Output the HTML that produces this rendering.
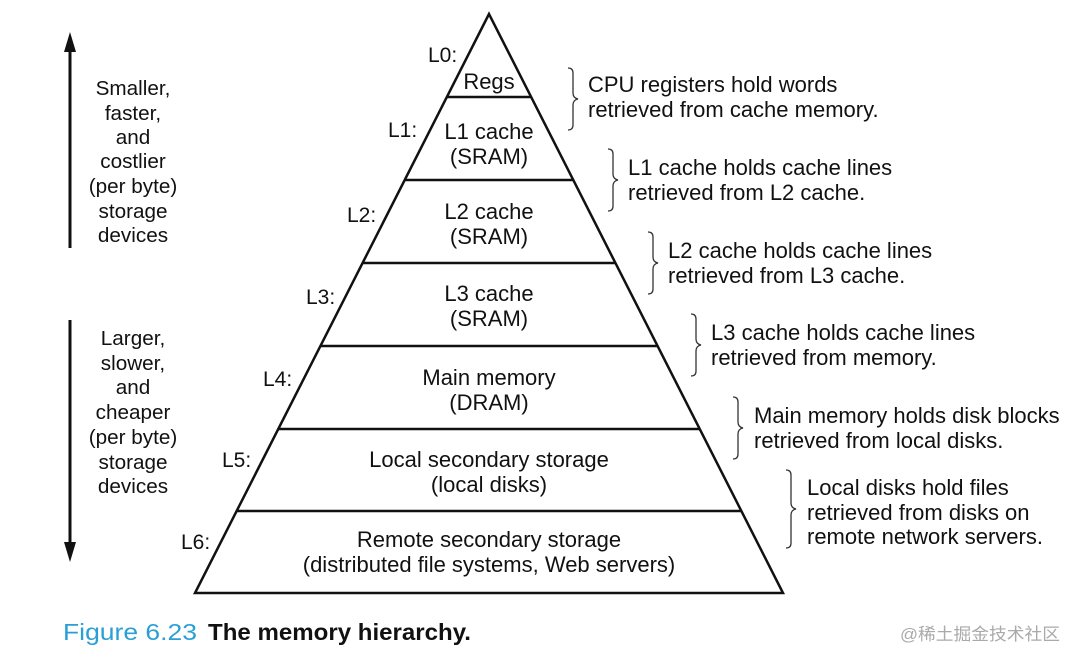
<!DOCTYPE html>
<html><head><meta charset="utf-8"><style>
html,body{margin:0;padding:0;background:#fff;}
svg{display:block;}
text{font-family:"Liberation Sans",sans-serif;font-size:22px;fill:#111;}
.c{text-anchor:middle;}
.l{font-size:20.7px;}
.L{font-size:21px;}
</style></head><body>
<svg width="1080" height="663" viewBox="0 0 1080 663">
<g stroke="#111" stroke-width="2.5" fill="none">
<polygon points="489,14 195,593 783,593"/>
<line x1="447" y1="97" x2="531" y2="97"/>
<line x1="405" y1="180" x2="573" y2="180"/>
<line x1="363" y1="263" x2="615" y2="263"/>
<line x1="321" y1="346" x2="657" y2="346"/>
<line x1="279" y1="429" x2="699" y2="429"/>
<line x1="237" y1="511" x2="741" y2="511"/>
</g>
<g stroke="#111" stroke-width="3">
<line x1="70" y1="50" x2="70" y2="248"/>
<line x1="70" y1="320" x2="70" y2="545"/>
</g>
<polygon points="70,32 64,52 76,52" fill="#111"/>
<polygon points="70,562 64,542 76,542" fill="#111"/>
<g stroke="#333" stroke-width="1.3" fill="none">
<path d="M568,68 q5,0 5,5 v20 q0,5 5,6 q-5,1 -5,6 v20 q0,5 -5,5"/>
<path d="M608,149 q5,0 5,5 v20 q0,5 5,6 q-5,1 -5,6 v20 q0,5 -5,5"/>
<path d="M648,232 q5,0 5,5 v20 q0,5 5,6 q-5,1 -5,6 v20 q0,5 -5,5"/>
<path d="M691,314 q5,0 5,5 v20 q0,5 5,6 q-5,1 -5,6 v20 q0,5 -5,5"/>
<path d="M733,397 q5,0 5,5 v20 q0,5 5,6 q-5,1 -5,6 v20 q0,5 -5,5"/>
<path d="M786,470 q5,0 5,5 v28 q0,5 5,6 q-5,1 -5,6 v28 q0,5 -5,5"/>
</g>
<text class="L" x="428" y="62">L0:</text>
<text class="L" x="388" y="137">L1:</text>
<text class="L" x="347" y="222">L2:</text>
<text class="L" x="306" y="304">L3:</text>
<text class="L" x="263" y="386">L4:</text>
<text class="L" x="222" y="467">L5:</text>
<text class="L" x="181" y="549">L6:</text>
<text class="c" x="489" y="89">Regs</text>
<text class="c" x="489" y="139">L1 cache</text><text class="c" x="489" y="164">(SRAM)</text>
<text class="c" x="489" y="219">L2 cache</text><text class="c" x="489" y="244">(SRAM)</text>
<text class="c" x="489" y="301">L3 cache</text><text class="c" x="489" y="326">(SRAM)</text>
<text class="c" x="489" y="385">Main memory</text><text class="c" x="489" y="410">(DRAM)</text>
<text class="c" x="489" y="467">Local secondary storage</text><text class="c" x="489" y="492">(local disks)</text>
<text class="c" x="489" y="547">Remote secondary storage</text><text class="c" x="489" y="572">(distributed file systems, Web servers)</text>
<text class="c l" x="133" y="95">Smaller,</text><text class="c l" x="133" y="120">faster,</text><text class="c l" x="133" y="144">and</text><text class="c l" x="133" y="168">costlier</text><text class="c l" x="133" y="193">(per byte)</text><text class="c l" x="133" y="218">storage</text><text class="c l" x="133" y="242">devices</text>
<text class="c l" x="133" y="345">Larger,</text><text class="c l" x="133" y="370">slower,</text><text class="c l" x="133" y="394">and</text><text class="c l" x="133" y="419">cheaper</text><text class="c l" x="133" y="444">(per byte)</text><text class="c l" x="133" y="469">storage</text><text class="c l" x="133" y="493">devices</text>
<text x="588" y="92">CPU registers hold words</text><text x="588" y="117">retrieved from cache memory.</text>
<text x="628" y="175">L1 cache holds cache lines</text><text x="628" y="200">retrieved from L2 cache.</text>
<text x="668" y="258">L2 cache holds cache lines</text><text x="668" y="283">retrieved from L3 cache.</text>
<text x="711" y="340">L3 cache holds cache lines</text><text x="711" y="365">retrieved from memory.</text>
<text x="754" y="423">Main memory holds disk blocks</text><text x="754" y="448">retrieved from local disks.</text>
<text x="807" y="495">Local disks hold files</text><text x="807" y="520">retrieved from disks on</text><text x="807" y="544">remote network servers.</text>
<text x="63" y="640" textLength="134" lengthAdjust="spacingAndGlyphs" style="font-size:23px;fill:#2a9fd6;">Figure 6.23</text>
<text x="208" y="640" textLength="263" lengthAdjust="spacingAndGlyphs" style="font-size:23px;font-weight:bold;">The memory hierarchy.</text>
<text x="900" y="640" textLength="160" lengthAdjust="spacingAndGlyphs" style="font-size:17px;fill:#aaa;font-family:'Liberation Sans','Noto Sans CJK SC',sans-serif;">@稀土掘金技术社区</text>
</svg>
</body></html>
